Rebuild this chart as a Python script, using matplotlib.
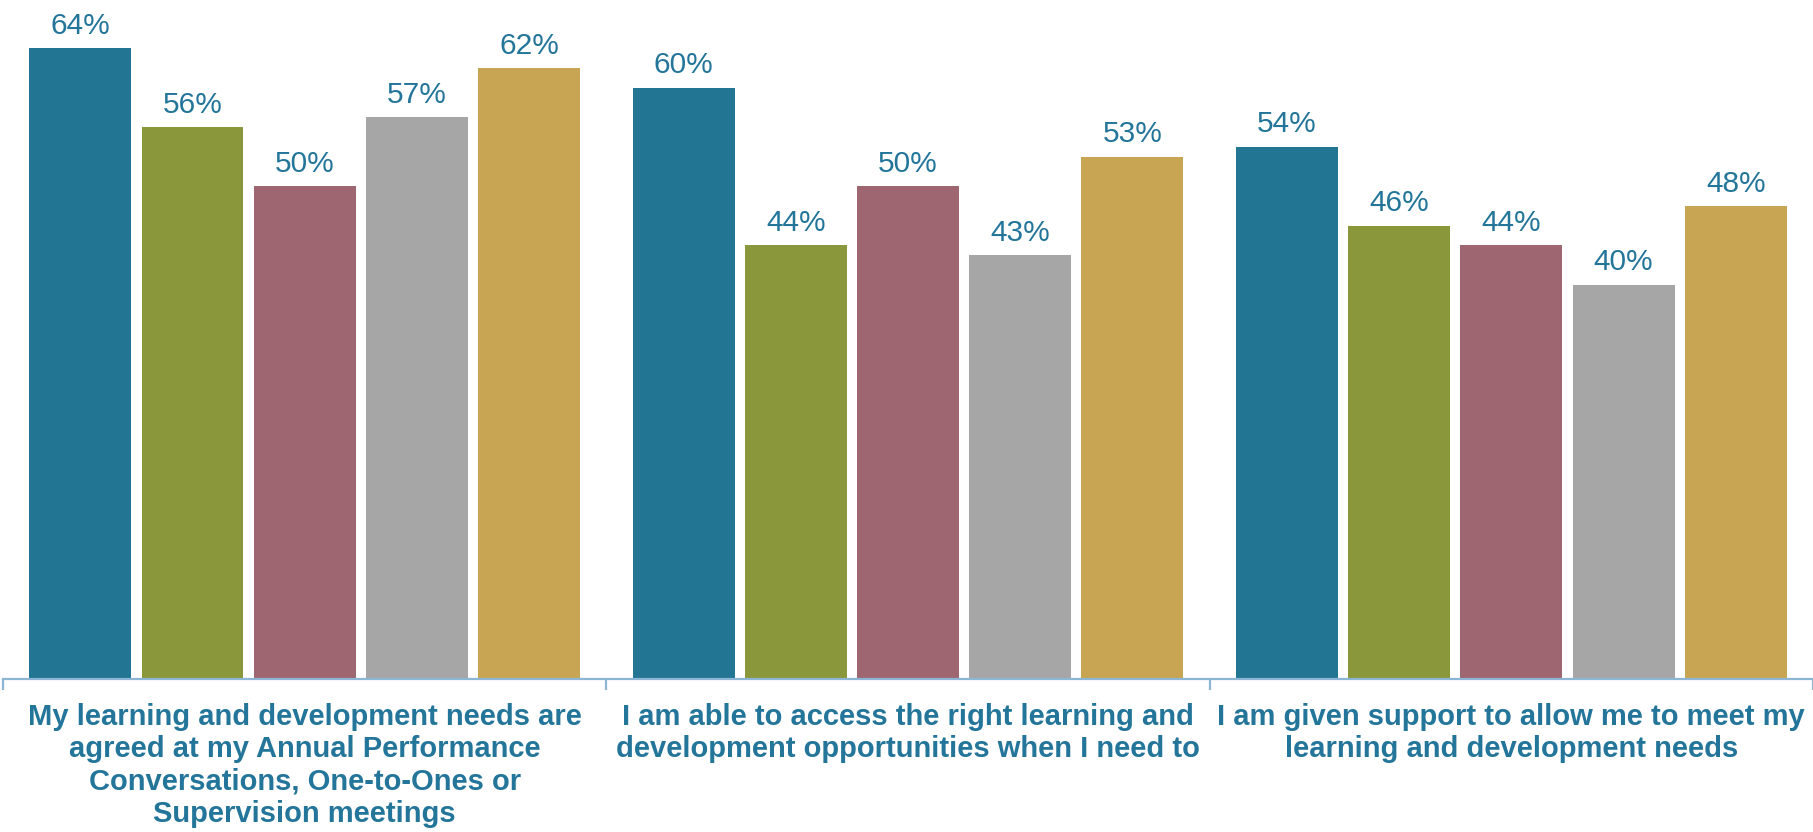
import matplotlib

matplotlib.use("Agg")
import matplotlib.pyplot as plt
import numpy as np

QUESTIONS = [
    "My learning and development needs are\nagreed at my Annual Performance\nConversations, One-to-Ones or\nSupervision meetings",
    "I am able to access the right learning and\ndevelopment opportunities when I need to",
    "I am given support to allow me to meet my\nlearning and development needs",
]
SERIES_COLORS = ["#237594", "#8A973B", "#9E6670", "#A6A6A6", "#C7A553"]
VALUES = [
    [64, 60, 54],
    [56, 44, 46],
    [50, 50, 44],
    [57, 43, 40],
    [62, 53, 48],
]

TEXT_COLOR = "#23759A"
STEP = 0.186
WIDTH = 0.169

fig = plt.figure(figsize=(18.13, 8.32), dpi=100)
ax = fig.add_axes([0.0017, 0.184, 0.9983, 0.816])

x = np.arange(len(QUESTIONS))
for j, (vals, col) in enumerate(zip(VALUES, SERIES_COLORS)):
    bars = ax.bar(x + (j - 2) * STEP, vals, WIDTH, color=col)
    ax.bar_label(bars, labels=[f"{v}%" for v in vals], padding=6,
                 fontsize=21.5, color=TEXT_COLOR, family=["Liberation Sans", "DejaVu Sans"])

ax.set_xlim(-0.5, len(QUESTIONS) - 0.5)
ax.set_ylim(0, 68.9)

for side in ("top", "right", "left"):
    ax.spines[side].set_visible(False)
ax.spines["bottom"].set_color("#8DB6D4")
ax.spines["bottom"].set_linewidth(1.6)
ax.set_yticks([])

# group separators as small ticks under the axis line
ax.set_xticks(np.arange(-0.5, len(QUESTIONS), 1.0))
ax.set_xticklabels([])
ax.tick_params(axis="x", direction="out", length=8, width=1.6, color="#8DB6D4")

for i, q in enumerate(QUESTIONS):
    ax.annotate(q, xy=(i, 0), xycoords=("data", "axes fraction"),
                xytext=(0, -17), textcoords="offset points",
                ha="center", va="top", fontsize=21, fontweight="bold",
                color=TEXT_COLOR, linespacing=1.2,
                family=["Liberation Sans Narrow", "Liberation Sans", "DejaVu Sans"])

fig.savefig("out.png", dpi=100)
